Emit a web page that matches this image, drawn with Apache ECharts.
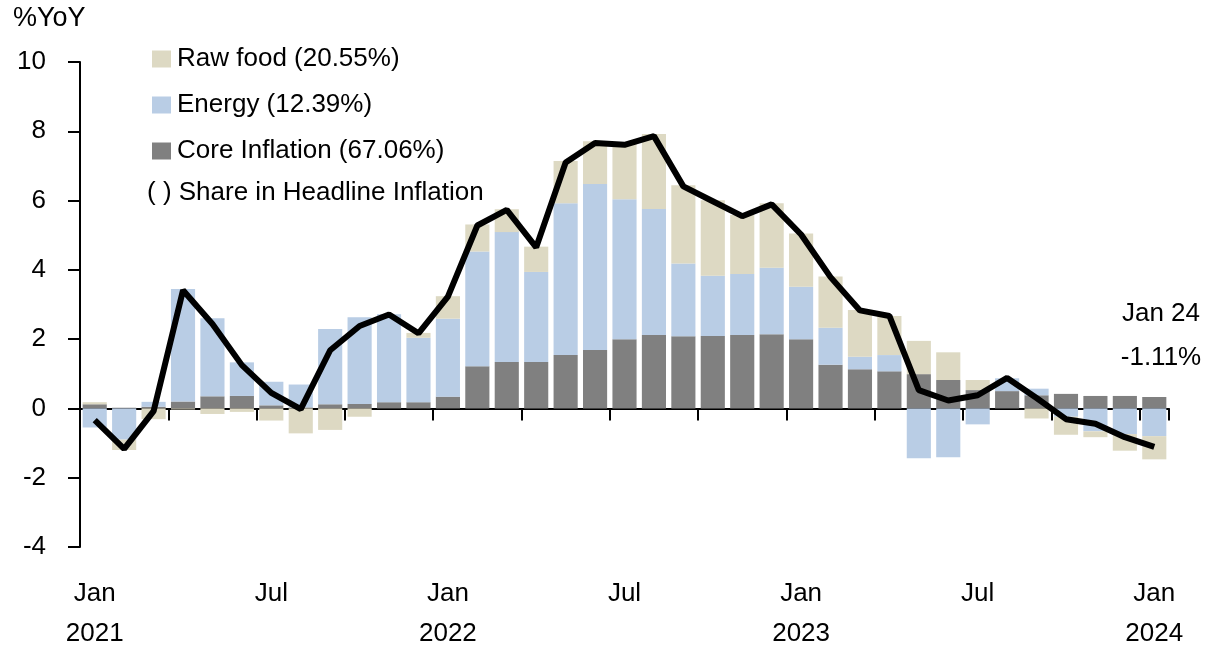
<!DOCTYPE html>
<html>
<head>
<meta charset="utf-8">
<script src="https://cdn.jsdelivr.net/npm/echarts@6/dist/echarts.min.js"></script>
<style>
  html, body { margin: 0; padding: 0; background: #ffffff; }
  #chart { width: 1211px; height: 648px; }
</style>
</head>
<body>
<div id="chart"></div>
<script>
var months = [
  "2021-01", "2021-02", "2021-03", "2021-04", "2021-05", "2021-06", "2021-07", "2021-08", "2021-09", "2021-10", "2021-11", "2021-12",
  "2022-01", "2022-02", "2022-03", "2022-04", "2022-05", "2022-06", "2022-07", "2022-08", "2022-09", "2022-10", "2022-11", "2022-12",
  "2023-01", "2023-02", "2023-03", "2023-04", "2023-05", "2023-06", "2023-07", "2023-08", "2023-09", "2023-10", "2023-11", "2023-12",
  "2024-01"
];
var monthNames = ["Jan", "Feb", "Mar", "Apr", "May", "Jun", "Jul", "Aug", "Sep", "Oct", "Nov", "Dec"];

var core = [
  0.12, 0.02, 0.05, 0.20, 0.35, 0.36, 0.09, 0.03, 0.12, 0.13, 0.18, 0.18,
  0.34, 1.22, 1.34, 1.34, 1.54, 1.69, 2.00, 2.12, 2.08, 2.09, 2.12, 2.14,
  2.00, 1.26, 1.13, 1.07, 0.99, 0.82, 0.53, 0.50, 0.38, 0.42, 0.36, 0.36,
  0.33
];
var energy = [
  -0.55, -0.90, 0.14, 3.25, 2.25, 0.97, 0.68, 0.66, 2.17, 2.50, 2.54, 1.86,
  2.25, 3.31, 3.75, 2.60, 4.38, 4.79, 4.04, 3.64, 2.10, 1.74, 1.76, 1.92,
  1.51, 1.07, 0.36, 0.47, -1.44, -1.41, -0.46, 0.37, 0.19, -0.24, -0.66, -0.74,
  -0.80
];
var rawFood = [
  0.06, -0.30, -0.31, -0.03, -0.16, -0.10, -0.35, -0.72, -0.62, -0.24, 0.00, 0.14,
  0.65, 0.78, 0.66, 0.73, 1.22, 1.23, 1.63, 2.16, 2.26, 2.18, 1.70, 1.86,
  1.54, 1.48, 1.35, 1.13, 0.96, 0.80, 0.29, 0.00, -0.29, -0.52, -0.17, -0.48,
  -0.67
];
var headline = [
  -0.34, -1.17, -0.08, 3.41, 2.44, 1.25, 0.45, -0.02, 1.68, 2.38, 2.71, 2.17,
  3.23, 5.28, 5.73, 4.65, 7.10, 7.66, 7.61, 7.86, 6.41, 5.98, 5.55, 5.89,
  5.02, 3.79, 2.83, 2.67, 0.53, 0.23, 0.38, 0.88, 0.30, -0.31, -0.44, -0.83,
  -1.11
];

var FONT = "Liberation Sans";
var colors = ['#808080', '#b9cde5', '#ddd9c3'];
var names = ['Core Inflation (67.06%)', 'Energy (12.39%)', 'Raw food (20.55%)'];

function monthLabel(value) {
  var parts = value.split("-");
  var m = parseInt(parts[1], 10) - 1;
  if (m == 0) {
    return monthNames[m] + "\n" + parts[0];
  }
  return monthNames[m];
}

var chart = echarts.init(document.getElementById('chart'));
chart.setOption({
  animation: false,
  textStyle: { fontFamily: FONT },
  grid: { left: 80, right: 42, top: 62, bottom: 101, containLabel: false, outerBoundsMode: 'none' },
  legend: {
    data: [names[2], names[1], names[0]],
    orient: 'vertical',
    left: 147,
    top: 41,
    itemWidth: 19,
    itemHeight: 17,
    itemGap: 20,
    icon: 'rect',
    textStyle: { fontFamily: FONT, fontSize: 26, color: '#000', lineHeight: 26, padding: [0, 0, 0, 1] }
  },
  graphic: [
    { type: 'text', left: 13, top: 5, style: { text: '%YoY', font: '27px "Liberation Sans"', fill: '#000' } },
    { type: 'text', left: 147, top: 180, style: { text: '( ) Share in Headline Inflation', font: '26px "Liberation Sans"', fill: '#000' } },
    { type: 'text', x: 1161, y: 314, style: { text: 'Jan 24', font: '26px "Liberation Sans"', fill: '#000', align: 'center', verticalAlign: 'middle' } },
    { type: 'text', x: 1161, y: 358, style: { text: '-1.11%', font: '26px "Liberation Sans"', fill: '#000', align: 'center', verticalAlign: 'middle' } }
  ],
  xAxis: [{
    type: 'category',
    data: months,
    boundaryGap: true,
    axisLine: { onZero: true, lineStyle: { color: '#000', width: 2 } },
    axisTick: { show: true, interval: 2, length: 12, inside: false, lineStyle: { color: '#000', width: 2 } },
    axisLabel: { show: false }
  }, {
    type: 'category',
    data: months,
    position: 'bottom',
    boundaryGap: true,
    axisLine: { show: false, onZero: false },
    axisTick: { show: false },
    axisLabel: {
      interval: 5,
      margin: 27,
      fontSize: 26,
      lineHeight: 40,
      color: '#000',
      fontFamily: FONT,
      formatter: monthLabel
    }
  }],
  yAxis: {
    type: 'value',
    min: -4,
    max: 10,
    interval: 2,
    splitLine: { show: false },
    axisLine: { show: true, lineStyle: { color: '#000', width: 2 } },
    axisTick: { show: true, length: 12, lineStyle: { color: '#000', width: 2 } },
    axisLabel: { margin: 34, fontSize: 26, color: '#000', fontFamily: FONT }
  },
  series: [
    { name: names[0], type: 'bar', stack: 'cpi', data: core, barCategoryGap: '18%', itemStyle: { color: colors[0] } },
    { name: names[1], type: 'bar', stack: 'cpi', data: energy, itemStyle: { color: colors[1] } },
    { name: names[2], type: 'bar', stack: 'cpi', data: rawFood, itemStyle: { color: colors[2] } },
    {
      name: 'Headline', type: 'line', data: headline, showSymbol: false, symbol: 'none', z: 5,
      lineStyle: { color: '#000', width: 6 }
    }
  ]
});
</script>
</body>
</html>
